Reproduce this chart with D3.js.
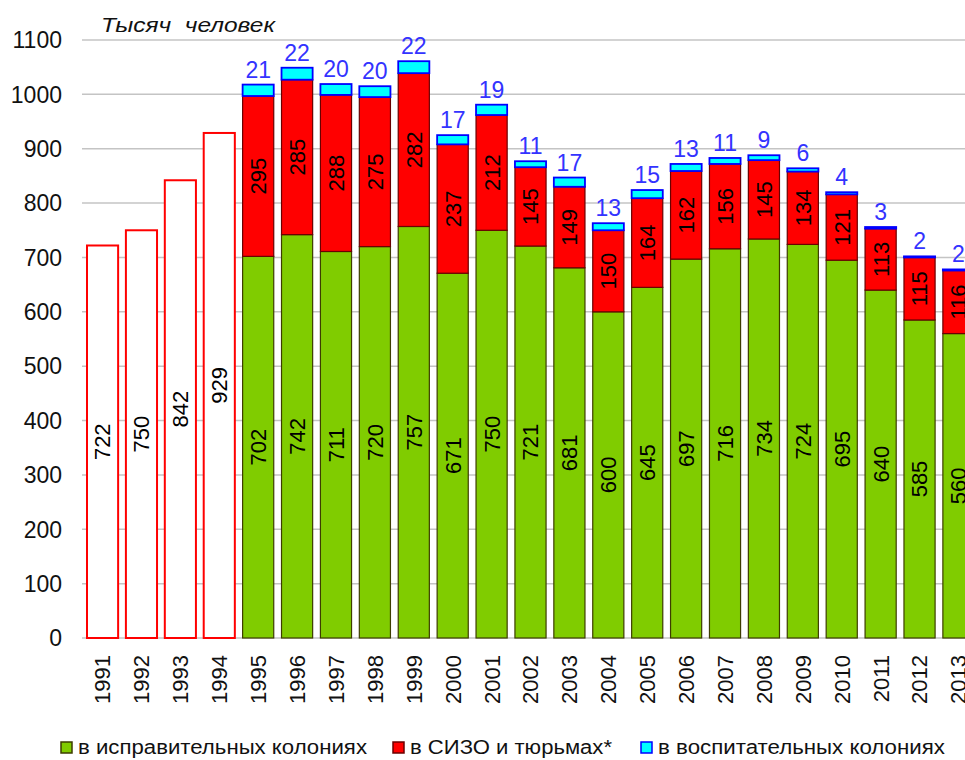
<!DOCTYPE html>
<html>
<head>
<meta charset="utf-8">
<script src="https://cdn.jsdelivr.net/npm/d3@7"></script>
<style>
  body { margin: 0; background: #fff; }
  svg { display: block; font-family: "Liberation Sans", Arial, sans-serif; }
</style>
</head>
<body>
<div id="chart"></div>
<script>
// Years shown on the x axis
const years = ["1991", "1992", "1993", "1994", "1995", "1996", "1997", "1998", "1999", "2000",
  "2001", "2002", "2003", "2004", "2005", "2006", "2007", "2008", "2009", "2010", "2011", "2012", "2013"];

// 1991-1994: only totals known
const earlyYears = ["1991", "1992", "1993", "1994"];
const earlyTotals = [722, 750, 842, 929];

// 1995-2013: breakdown
const splitYears = years.slice(4);
const colonies = [702, 742, 711, 720, 757, 671, 750, 721, 681, 600, 645, 697, 716, 734, 724, 695, 640, 585, 560];
const sizo = [295, 285, 288, 275, 282, 237, 212, 145, 149, 150, 164, 162, 156, 145, 134, 121, 113, 115, 116];
const juvenile = [21, 22, 20, 20, 22, 17, 19, 11, 17, 13, 15, 13, 11, 9, 6, 4, 3, 2, 2];

const yTicks = [0, 100, 200, 300, 400, 500, 600, 700, 800, 900, 1000, 1100];

const seriesNames = ["в исправительных колониях", "в СИЗО и тюрьмах*", "в воспитательных колониях"];

const width = 965;
const height = 760;

const svg = d3.select("#chart")
  .append("svg")
  .attr("width", width)
  .attr("height", height);

const x = d3.scaleBand()
  .domain(years)
  .range([80, 981])
  .paddingInner(0.2)
  .paddingOuter(0.18);

const y = d3.scaleLinear()
  .domain([0, 1100])
  .range([638, 40]);

// gridlines
svg.append("g")
  .selectAll("line")
  .data(yTicks)
  .enter()
  .append("line")
  .attr("x1", 82)
  .attr("x2", width)
  .attr("y1", (d) => y(d))
  .attr("y2", (d) => y(d))
  .attr("stroke", "#c4c4c4")
  .attr("stroke-width", 1.5);

// y tick labels
svg.append("g")
  .selectAll("text")
  .data(yTicks)
  .enter()
  .append("text")
  .attr("x", 62)
  .attr("y", (d) => y(d))
  .attr("dy", "0.36em")
  .attr("text-anchor", "end")
  .attr("font-size", 23)
  .attr("fill", "#111")
  .text((d) => d);

// unit label
svg.append("text")
  .attr("x", 101)
  .attr("y", 32)
  .attr("font-size", 21)
  .attr("font-style", "italic")
  .attr("fill", "#111")
  .attr("xml:space", "preserve")
  .attr("textLength", 174)
  .attr("lengthAdjust", "spacingAndGlyphs")
  .text("Тысяч  человек");

// early total bars
const early = earlyYears.map((yr, i) => ({ year: yr, value: earlyTotals[i] }));

svg.append("g")
  .selectAll("rect")
  .data(early)
  .enter()
  .append("rect")
  .attr("x", (d) => x(d.year))
  .attr("y", (d) => y(d.value))
  .attr("width", x.bandwidth())
  .attr("height", (d) => y(0) - y(d.value))
  .attr("fill", "#fff")
  .attr("stroke", "#ff0000")
  .attr("stroke-width", 2);

svg.append("g")
  .selectAll("text")
  .data(early)
  .enter()
  .append("text")
  .attr("transform", (d) => `translate(${x(d.year) + x.bandwidth() / 2},${(y(d.value) + y(0)) / 2}) rotate(-90)`)
  .attr("text-anchor", "middle")
  .attr("dy", "0.36em")
  .attr("font-size", 22)
  .attr("fill", "#000")
  .text((d) => d.value);

// stacked bars
const rows = splitYears.map((yr, i) => ({ year: yr, colonies: colonies[i], sizo: sizo[i], juvenile: juvenile[i] }));
const keys = ["colonies", "sizo", "juvenile"];
const fills = { colonies: "#80cc00", sizo: "#ff0000", juvenile: "#00ffff" };
const strokes = { colonies: "#3d3d00", sizo: "#6a0000", juvenile: "#0000ff" };

const stacked = d3.stack().keys(keys)(rows);

const layers = svg.append("g")
  .selectAll("g")
  .data(stacked)
  .enter()
  .append("g")
  .attr("fill", (d) => fills[d.key])
  .attr("stroke", (d) => strokes[d.key])
  .attr("stroke-width", (d) => d.key === "juvenile" ? 1.8 : 1.2);

layers.selectAll("rect")
  .data((d) => d)
  .enter()
  .append("rect")
  .attr("x", (d) => x(d.data.year))
  .attr("y", (d) => y(d[1]))
  .attr("width", x.bandwidth())
  .attr("height", (d) => y(d[0]) - y(d[1]));

// labels inside green and red segments
stacked.slice(0, 2).forEach((layer) => {
  svg.append("g")
    .selectAll("text")
    .data(layer)
    .enter()
    .append("text")
    .attr("transform", (d) => `translate(${x(d.data.year) + x.bandwidth() / 2},${(y(d[0]) + y(d[1])) / 2}) rotate(-90)`)
    .attr("text-anchor", "middle")
    .attr("dy", "0.36em")
    .attr("font-size", 22)
    .attr("fill", "#000")
    .text((d) => d.data[layer.key]);
});

// labels above bars (juvenile colonies)
svg.append("g")
  .selectAll("text")
  .data(stacked[2])
  .enter()
  .append("text")
  .attr("x", (d) => x(d.data.year) + x.bandwidth() / 2)
  .attr("y", (d) => y(d[1]) - 7)
  .attr("text-anchor", "middle")
  .attr("font-size", 23)
  .attr("fill", "#3333ff")
  .text((d) => d.data.juvenile);

// year labels
svg.append("g")
  .selectAll("text")
  .data(years)
  .enter()
  .append("text")
  .attr("transform", (d) => `translate(${x(d) + x.bandwidth() / 2},655) rotate(-90)`)
  .attr("text-anchor", "end")
  .attr("dy", "0.36em")
  .attr("font-size", 22)
  .attr("fill", "#111")
  .text((d) => d);

// legend
const legendItems = [
  { name: seriesNames[0], fill: fills.colonies, stroke: strokes.colonies, x: 61, len: 289 },
  { name: seriesNames[1], fill: fills.sizo, stroke: strokes.sizo, x: 393, len: 202 },
  { name: seriesNames[2], fill: fills.juvenile, stroke: strokes.juvenile, x: 641, len: 287 }
];

const legend = svg.append("g")
  .selectAll("g")
  .data(legendItems)
  .enter()
  .append("g")
  .attr("transform", (d) => `translate(${d.x},742)`);

legend.append("rect")
  .attr("width", 11)
  .attr("height", 11)
  .attr("fill", (d) => d.fill)
  .attr("stroke", (d) => d.stroke)
  .attr("stroke-width", 1.5);

legend.append("text")
  .attr("x", 17)
  .attr("y", 12)
  .attr("font-size", 20)
  .attr("textLength", (d) => d.len)
  .attr("lengthAdjust", "spacingAndGlyphs")
  .attr("fill", "#111")
  .text((d) => d.name);
</script>
</body>
</html>
